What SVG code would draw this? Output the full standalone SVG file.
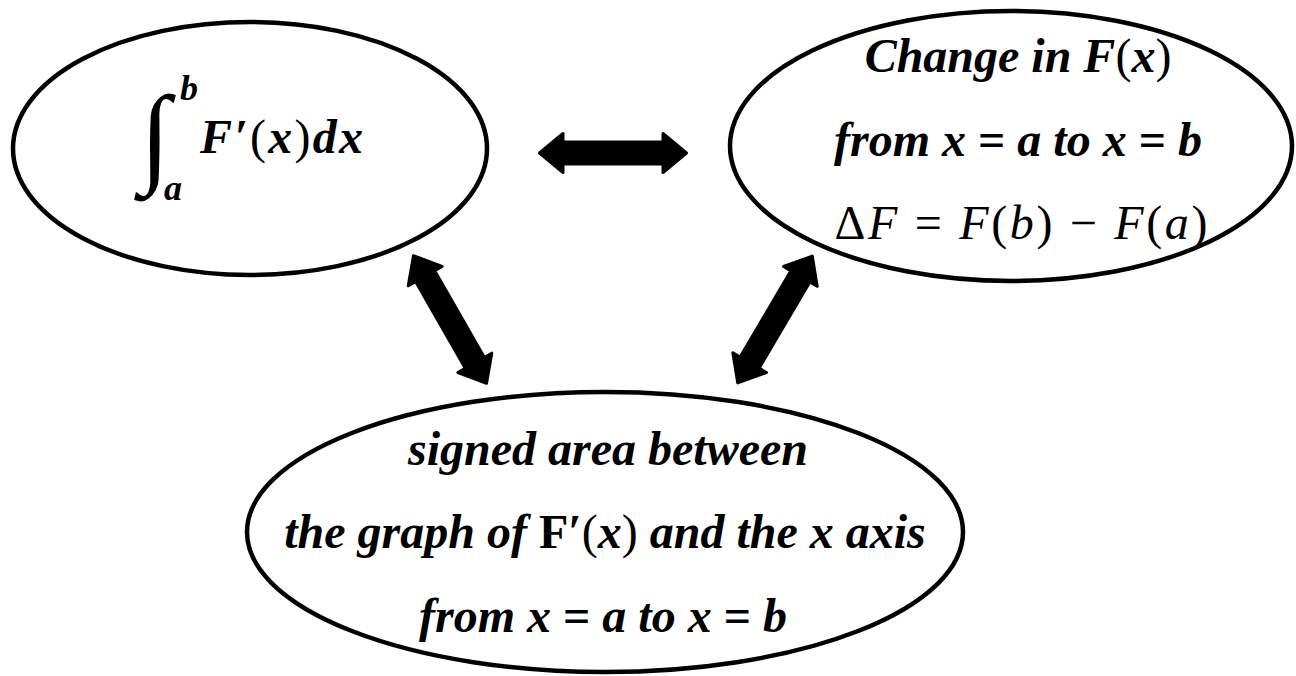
<svg xmlns="http://www.w3.org/2000/svg" xmlns:xlink="http://www.w3.org/1999/xlink" width="1296" height="676" viewBox="0 0 1296 676">
<style>
.node ellipse{fill:#fff;stroke:#000;stroke-width:4.5}
.t{font-family:"Liberation Serif","Times New Roman",serif;font-size:48px;font-weight:bold;font-style:italic;fill:#000}
.m{font-family:"Liberation Serif","Times New Roman",serif;font-size:48px;font-style:italic;fill:#000}
.up{font-style:normal}
.arr{fill:#000;stroke:#000;stroke-width:3;stroke-linejoin:round}
</style>
<defs>
<polygon id="dbl" points="-73.5,0 -50,-19.5 -50,-11 50,-11 50,-19.5 73.5,0 50,19.5 50,11 -50,11 -50,19.5"/>
</defs>
<rect width="1296" height="676" fill="#fff"/>
<g id="node-integral" class="node">
<ellipse cx="250" cy="148.5" rx="237" ry="126.5"/>
<text class="t" x="140" y="172" style="font-size:110px;font-weight:normal">∫</text>
<text class="t" x="180" y="100" style="font-size:36px">b</text>
<text class="t" x="164" y="200" style="font-size:36px">a</text>
<text class="t" x="200" y="153" textLength="163">F′<tspan class="up" font-weight="normal">(</tspan>x<tspan class="up" font-weight="normal">)</tspan>dx</text>
</g>
<g id="node-change" class="node">
<ellipse cx="1011" cy="146" rx="281" ry="135"/>
<text class="t" x="1018" y="72" text-anchor="middle">Change in F<tspan class="up" font-weight="normal">(</tspan>x<tspan class="up" font-weight="normal">)</tspan></text>
<text class="t" x="1018" y="156" text-anchor="middle">from x <tspan class="up">=</tspan> a to x <tspan class="up">=</tspan> b</text>
<text class="m" x="1021" y="239" text-anchor="middle" textLength="373"><tspan class="up">Δ</tspan>F <tspan class="up">=</tspan> F<tspan class="up">(</tspan>b<tspan class="up">)</tspan> <tspan class="up">−</tspan> F<tspan class="up">(</tspan>a<tspan class="up">)</tspan></text>
</g>
<g id="node-area" class="node">
<ellipse cx="605" cy="532" rx="358" ry="140"/>
<text class="t" x="608" y="465" text-anchor="middle">signed area between</text>
<text class="t" x="605" y="548" text-anchor="middle">the graph of  <tspan class="up">F′</tspan><tspan class="up" font-weight="normal">(</tspan>x<tspan class="up" font-weight="normal">)</tspan> and the x axis</text>
<text class="t" x="603" y="632" text-anchor="middle">from x <tspan class="up">=</tspan> a to x <tspan class="up">=</tspan> b</text>
</g>
<g id="connectors">
<use xlink:href="#dbl" class="arr" transform="translate(613,153)"/>
<use xlink:href="#dbl" class="arr" transform="translate(450,319.5) rotate(60.2)"/>
<use xlink:href="#dbl" class="arr" transform="translate(775,319.5) rotate(120.5)"/>
</g>
</svg>
